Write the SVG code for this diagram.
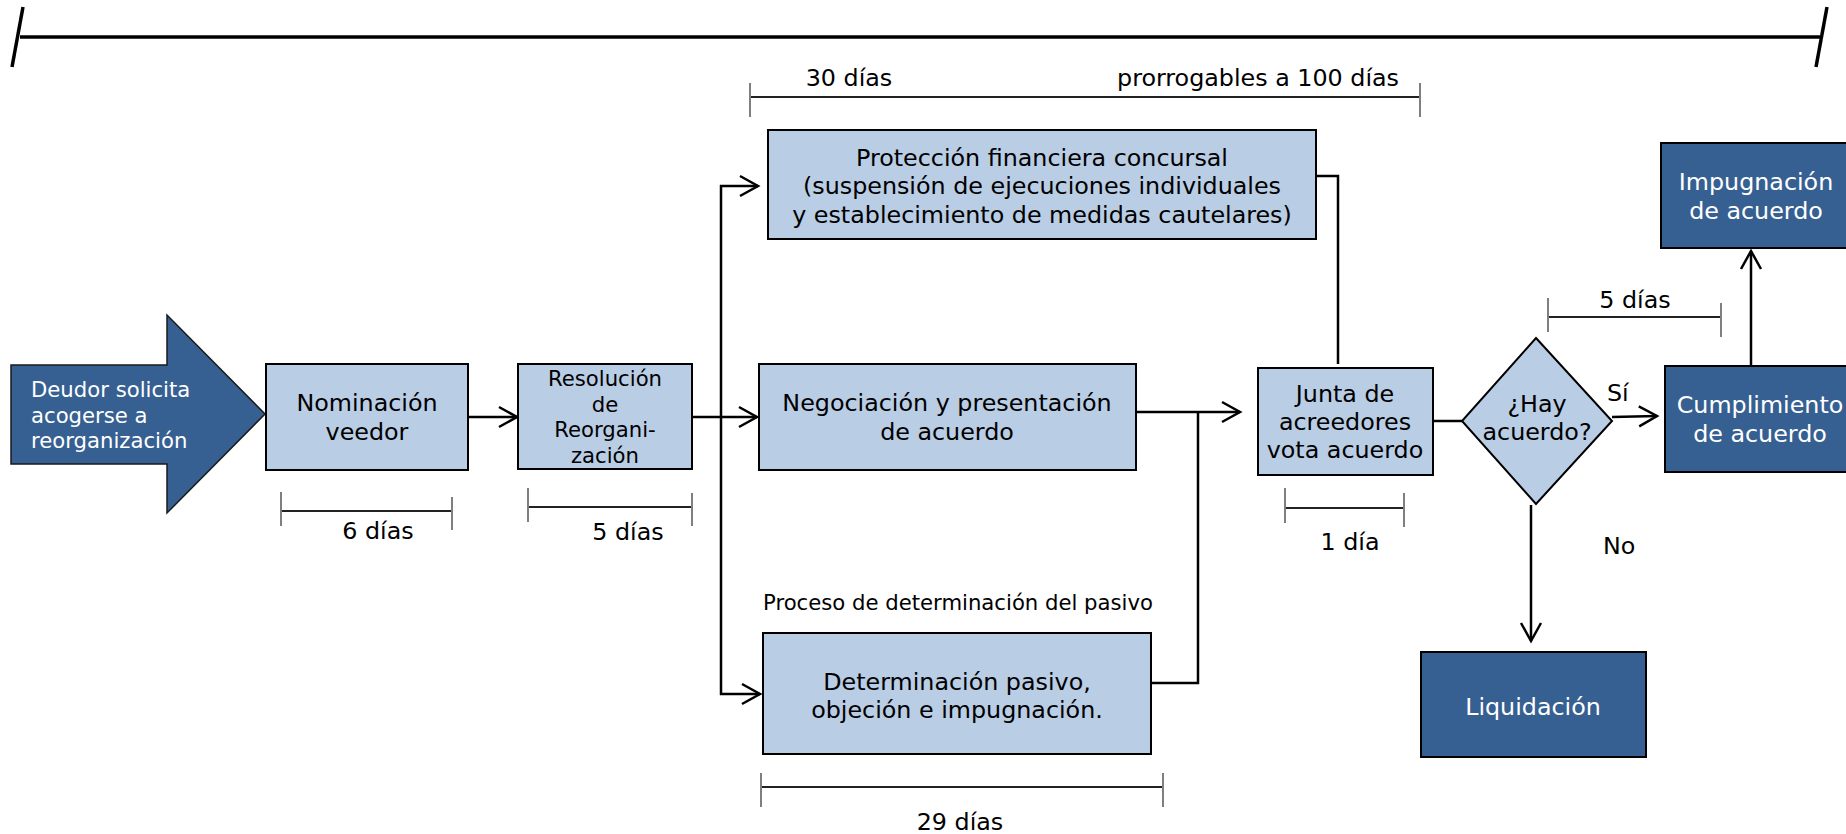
<svg xmlns="http://www.w3.org/2000/svg" width="1846" height="834" viewBox="0 0 1846 834">
<style>
text{font-family:"DejaVu Sans",Verdana,sans-serif;font-size:23.8px;fill:#000}
.sm{font-size:21.2px}
.w{fill:#fff}
.c{text-anchor:middle}
.lb{fill:#B9CDE5;stroke:#000;stroke-width:2}
.db{fill:#376092;stroke:#000;stroke-width:2}
.con{fill:none;stroke:#000;stroke-width:2.5}
.brl{stroke:#222;stroke-width:2}
.brt{stroke:#7f7f7f;stroke-width:2}
</style>
<defs>
<marker id="ah" markerUnits="userSpaceOnUse" markerWidth="26" markerHeight="26" viewBox="-22 -13 26 26" refX="0" refY="0" orient="auto">
<path d="M-18,-10 L0,0 L-18,10" fill="none" stroke="#000" stroke-width="2.5"/>
</marker>
</defs>

<g id="timeline">
<line x1="20" y1="37" x2="1820" y2="37" stroke="#000" stroke-width="3.5"/>
<line x1="23" y1="7" x2="12" y2="67" stroke="#000" stroke-width="3.5"/>
<line x1="1827" y1="7" x2="1816" y2="67" stroke="#000" stroke-width="3.5"/>
</g>

<g id="brackets">
<line class="brl" x1="750" y1="97" x2="1420" y2="97"/>
<line class="brt" x1="750" y1="83" x2="750" y2="117"/>
<line class="brt" x1="1420" y1="83" x2="1420" y2="117"/>
<text x="849" y="86" class="c">30 días</text>
<text x="1399" y="86" text-anchor="end">prorrogables a 100 días</text>

<line class="brl" x1="281" y1="511" x2="452" y2="511"/>
<line class="brt" x1="281" y1="492" x2="281" y2="526"/>
<line class="brt" x1="452" y1="497" x2="452" y2="530"/>
<text x="378" y="539" class="c">6 días</text>

<line class="brl" x1="528" y1="507" x2="692" y2="507"/>
<line class="brt" x1="528" y1="488" x2="528" y2="522"/>
<line class="brt" x1="692" y1="493" x2="692" y2="526"/>
<text x="628" y="540" class="c">5 días</text>

<line class="brl" x1="761" y1="787" x2="1163" y2="787"/>
<line class="brt" x1="761" y1="773" x2="761" y2="807"/>
<line class="brt" x1="1163" y1="773" x2="1163" y2="807"/>
<text x="960" y="830" class="c">29 días</text>

<line class="brl" x1="1285" y1="508" x2="1404" y2="508"/>
<line class="brt" x1="1285" y1="488" x2="1285" y2="523"/>
<line class="brt" x1="1404" y1="493" x2="1404" y2="527"/>
<text x="1350" y="550" class="c">1 día</text>

<line class="brl" x1="1548" y1="317" x2="1721" y2="317"/>
<line class="brt" x1="1548" y1="298" x2="1548" y2="332"/>
<line class="brt" x1="1721" y1="303" x2="1721" y2="337"/>
<text x="1635" y="308" class="c">5 días</text>
</g>

<g id="connectors">
<line class="con" x1="468" y1="417" x2="517" y2="417" marker-end="url(#ah)"/>
<line class="con" x1="692" y1="417" x2="757" y2="417" stroke-width="3.5" marker-end="url(#ah)"/>
<line class="con" x1="721" y1="185" x2="721" y2="695"/>
<polyline class="con" points="720,186 758,186" marker-end="url(#ah)"/>
<polyline class="con" points="720,694 760,694" marker-end="url(#ah)"/>
<polyline class="con" points="1316,176 1338,176 1338,364"/>
<polyline class="con" points="1151,683 1198,683 1198,412"/>
<line class="con" x1="1136" y1="412" x2="1240" y2="412" marker-end="url(#ah)"/>
<line class="con" x1="1433" y1="421" x2="1462" y2="421"/>
<line class="con" x1="1612" y1="417" x2="1657" y2="416" marker-end="url(#ah)"/>
<line class="con" x1="1531" y1="505" x2="1531" y2="641" marker-end="url(#ah)"/>
<line class="con" x1="1751" y1="366" x2="1751" y2="251" marker-end="url(#ah)"/>
<text x="1607" y="401">Sí</text>
<text x="1603" y="554">No</text>
</g>

<g id="deudor">
<polygon points="11,365 167,365 167,315 265,414 167,513 167,464 11,464" fill="#376092" stroke="#1a1a1a" stroke-width="1.5"/>
<text class="sm w" x="31" y="397">Deudor solicita</text>
<text class="sm w" x="31" y="423">acogerse a</text>
<text class="sm w" x="31" y="448">reorganización</text>
</g>

<g id="nominacion">
<rect class="lb" x="266" y="364" width="202" height="106"/>
<text class="c" x="367" y="411">Nominación</text>
<text class="c" x="367" y="440">veedor</text>
</g>

<g id="resolucion">
<rect class="lb" x="518" y="364" width="174" height="105"/>
<text class="c sm" x="605" y="386">Resolución</text>
<text class="c sm" x="605" y="412">de</text>
<text class="c sm" x="605" y="437">Reorgani-</text>
<text class="c sm" x="605" y="463">zación</text>
</g>

<g id="proteccion">
<rect class="lb" x="768" y="130" width="548" height="109"/>
<text class="c" x="1042" y="166">Protección financiera concursal</text>
<text class="c" x="1042" y="194">(suspensión de ejecuciones individuales</text>
<text class="c" x="1042" y="223">y establecimiento de medidas cautelares)</text>
</g>

<g id="negociacion">
<rect class="lb" x="759" y="364" width="377" height="106"/>
<text class="c" x="947" y="411">Negociación y presentación</text>
<text class="c" x="947" y="440">de acuerdo</text>
</g>

<g id="determinacion">
<text class="sm" x="763" y="610">Proceso de determinación del pasivo</text>
<rect class="lb" x="763" y="633" width="388" height="121"/>
<text class="c" x="957" y="690">Determinación pasivo,</text>
<text class="c" x="957" y="718">objeción e impugnación.</text>
</g>

<g id="junta">
<rect class="lb" x="1258" y="368" width="175" height="107"/>
<text class="c" x="1345" y="402">Junta de</text>
<text class="c" x="1345" y="430">acreedores</text>
<text class="c" x="1345" y="458">vota acuerdo</text>
</g>

<g id="decision">
<polygon class="lb" points="1536,338 1612,421 1536,504 1462,421"/>
<text class="c" x="1537" y="412">¿Hay</text>
<text class="c" x="1537" y="440">acuerdo?</text>
</g>

<g id="cumplimiento">
<rect class="db" x="1665" y="366" width="200" height="106"/>
<text class="c w" x="1760" y="413">Cumplimiento</text>
<text class="c w" x="1760" y="442">de acuerdo</text>
</g>

<g id="impugnacion">
<rect class="db" x="1661" y="143" width="200" height="105"/>
<text class="c w" x="1756" y="190">Impugnación</text>
<text class="c w" x="1756" y="219">de acuerdo</text>
</g>

<g id="liquidacion">
<rect class="db" x="1421" y="652" width="225" height="105"/>
<text class="c w" x="1533" y="715">Liquidación</text>
</g>
</svg>
